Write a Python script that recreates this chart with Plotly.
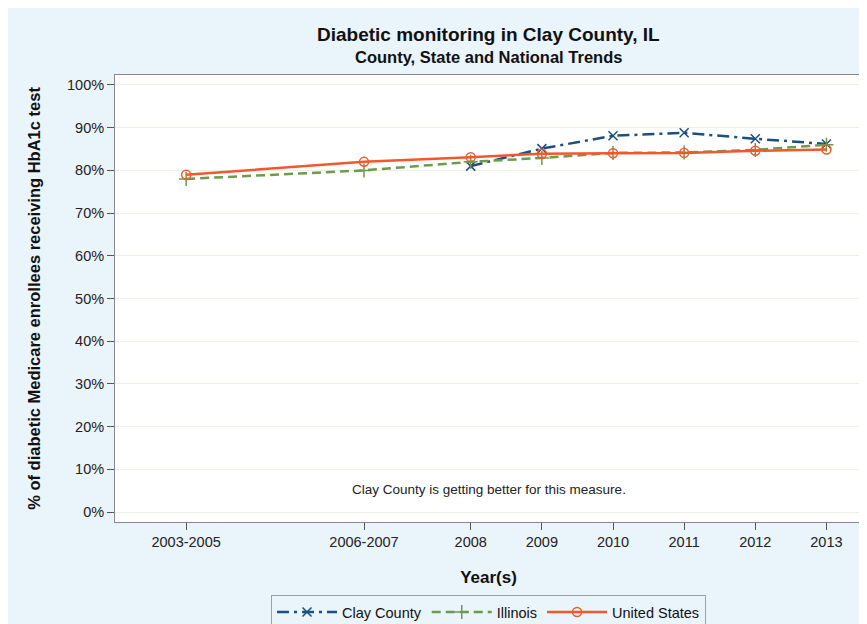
import plotly.graph_objects as go

# ---- data ----
tick_labels = ["2003-2005", "2006-2007", "2008", "2009", "2010", "2011", "2012", "2013"]
tick_pos = [2004, 2006.5, 2008, 2009, 2010, 2011, 2012, 2013]

clay_x = [2008, 2009, 2010, 2011, 2012, 2013]
clay_y = [81.0, 85.1, 88.1, 88.8, 87.4, 86.2]

il_x = [2004, 2006.5, 2008, 2009, 2010, 2011, 2012, 2013]
il_y = [78.0, 80.0, 82.0, 82.9, 84.1, 84.2, 84.8, 86.0]

us_x = [2004, 2006.5, 2008, 2009, 2010, 2011, 2012, 2013]
us_y = [79.0, 82.0, 83.1, 83.9, 84.0, 84.1, 84.6, 84.9]

y_ticks = [0, 10, 20, 30, 40, 50, 60, 70, 80, 90, 100]
y_labels = ["0%", "10%", "20%", "30%", "40%", "50%", "60%", "70%", "80%", "90%", "100%"]

BG = "#EAF4FB"
FONT = "Liberation Sans, Arial, sans-serif"

# plot area in figure pixels
L, T, W, H = 107, 67, 747, 447
FW, FH = 867, 624


def py(pix_y):
    return (T + H - pix_y) / H


fig = go.Figure()
fig.add_trace(go.Scatter(
    x=clay_x, y=clay_y, name="Clay County", mode="lines+markers",
    line=dict(color="#1B4F7E", width=2.5, dash="12px,5px,3px,5px"),
    marker=dict(symbol="x-thin-open", size=9, line=dict(color="#1B4F7E", width=1.5)),
))
fig.add_trace(go.Scatter(
    x=il_x, y=il_y, name="Illinois", mode="lines+markers",
    line=dict(color="#6E9A4E", width=2.5, dash="9px,5px"),
    marker=dict(symbol="cross-thin-open", size=10, line=dict(color="#6E9A4E", width=1.5)),
))
fig.add_trace(go.Scatter(
    x=us_x, y=us_y, name="United States", mode="lines+markers",
    line=dict(color="#F2582B", width=2.5),
    marker=dict(symbol="circle-open", size=9, line=dict(color="#F2582B", width=1.5)),
))

fig.update_layout(
    width=FW, height=FH,
    margin=dict(l=L, r=FW - L - W, t=T, b=FH - T - H, autoexpand=False),
    paper_bgcolor=BG, plot_bgcolor="white",
    font=dict(family=FONT, size=14, color="#222"),
    showlegend=True,
    legend=dict(
        orientation="h", x=0.5, xanchor="center", y=py(587), yanchor="top",
        bgcolor=BG, bordercolor="#A0A0A0", borderwidth=1,
        font=dict(size=14.5, family=FONT, color="#111"),
        itemwidth=60, tracegroupgap=0,
    ),
    xaxis=dict(
        range=[2003, 2013.5], tickvals=tick_pos, ticktext=tick_labels,
        ticks="outside", ticklen=7, tickcolor="#555", showgrid=False,
        showline=True, linecolor="#888", mirror=True, zeroline=False,
        tickfont=dict(size=14.5, family=FONT, color="#222"),
        title=dict(text="<b>Year(s)</b>", font=dict(size=17, family=FONT, color="#111"), standoff=21),
    ),
    yaxis=dict(
        range=[-2.34, 102.34], tickvals=y_ticks, ticktext=y_labels,
        ticks="outside", ticklen=7, tickcolor="#555",
        showgrid=True, gridcolor="#EFEFE2", gridwidth=1,
        showline=True, linecolor="#888", mirror=True, zeroline=False,
        tickfont=dict(size=14.5, family=FONT, color="#222"),
        title=dict(text="<b>% of diabetic Medicare enrollees receiving HbA1c test</b>",
                   font=dict(size=16.5, family=FONT, color="#111"), standoff=22),
    ),
    annotations=[
        dict(text="<b>Diabetic monitoring in Clay County, IL</b>",
             xref="paper", yref="paper", x=0.5, y=py(27), xanchor="center", yanchor="middle",
             showarrow=False, font=dict(size=19, family=FONT, color="#111")),
        dict(text="<b>County, State and National Trends</b>",
             xref="paper", yref="paper", x=0.5, y=py(49), xanchor="center", yanchor="middle",
             showarrow=False, font=dict(size=16.5, family=FONT, color="#111")),
        dict(text="Clay County is getting better for this measure.",
             xref="paper", yref="paper", x=0.5, y=py(481), xanchor="center", yanchor="middle",
             showarrow=False, font=dict(size=13.5, family=FONT, color="#222")),
    ],
)

fig.write_html("out.html")
